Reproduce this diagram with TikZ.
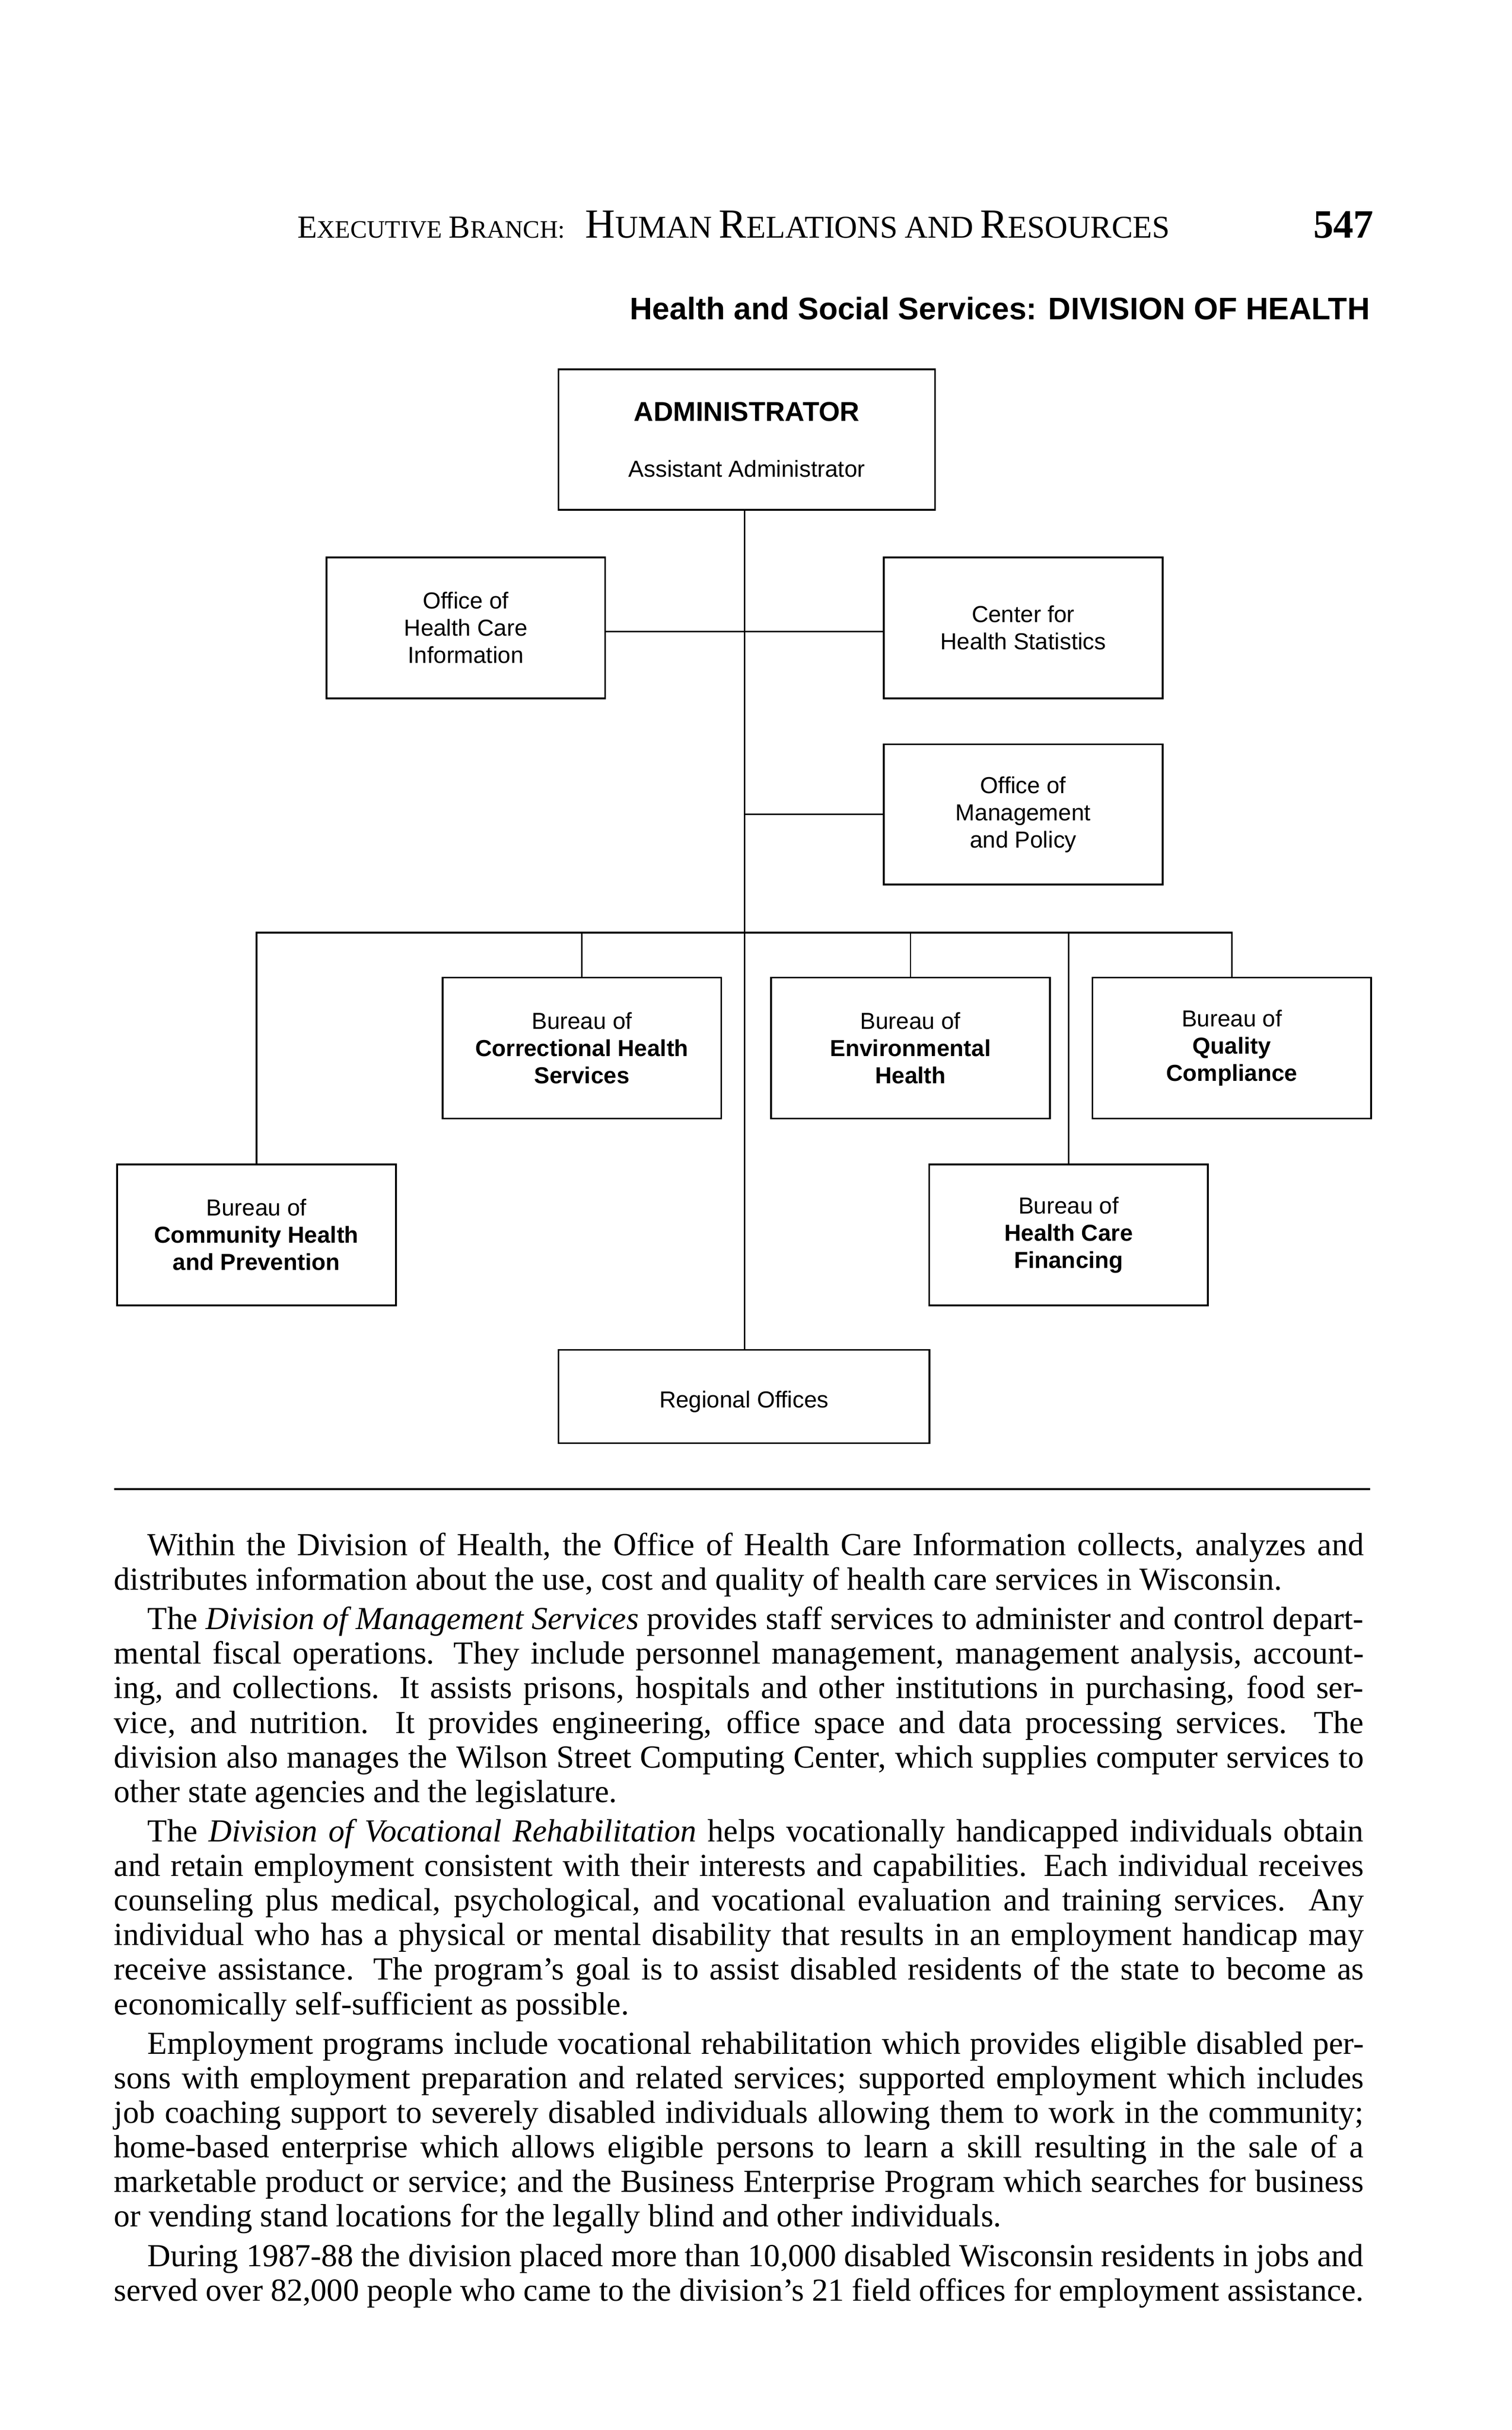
\documentclass[tikz,border=0pt]{standalone}
\usepackage{fontspec}
\setmainfont{Liberation Serif}
\setsansfont{Liberation Sans}
\newcommand\hscA[2]{{\fontsize{11.8}{12}\selectfont #1}{\fontsize{9.2}{12}\selectfont #2}}
\newcommand\hscB[2]{{\fontsize{15.2}{15}\selectfont #1}{\fontsize{11.65}{12}\selectfont #2}}
\newcommand\jl[1]{\makebox[\linewidth][s]{#1}\par}
\newcommand\lastl[1]{\makebox[\linewidth][l]{#1}\par}
\newcommand\pind{\hspace*{12.3pt}}
\begin{document}
\begin{tikzpicture}[x=0.02cm,y=-0.02cm,
  box/.style={draw,line width=0.65pt,rectangle,inner sep=0pt,align=center,
    font=\sffamily\fontsize{8.5}{10}\selectfont},
  smallbox/.style={box,minimum width=3.6cm,minimum height=1.82cm},
  link/.style={line width=0.5pt},
  lbl/.style={inner sep=0pt,outer sep=0pt}]
\useasboundingbox (0,0) rectangle (976,1568.6);
\fill[white] (0,0) rectangle (976,1568.6);

% header
\node[lbl,anchor=base west] (hd1) at (192,153.7) {\hscA{E}{XECUTIVE} \hscA{B}{RANCH:}};
\node[lbl,anchor=base west] (hd2) at (378,153.7) {\hscB{H}{UMAN} \hscB{R}{ELATIONS} {\fontsize{11.65}{12}\selectfont AND} \hscB{R}{ESOURCES}};
\node[lbl,anchor=base east] (pg) at (887,153.7) {\fontsize{14.8}{16}\selectfont\bfseries 547};
\node[lbl,anchor=base east,font=\sffamily\bfseries\fontsize{11.45}{13}\selectfont] (title) at (884.5,206.3) {Health and Social Services: DIVISION OF HEALTH};

% chart boxes
\node[box,minimum width=4.864cm,minimum height=1.812cm] (admin) at (482.2,283.7)
  {{\bfseries\fontsize{10}{12}\selectfont ADMINISTRATOR}\\[10.5pt]Assistant Administrator};
\node[smallbox] (hci) at (300.75,405.3) {Office of\\Health Care\\Information};
\node[smallbox] (chs) at (660.65,405.3) {Center for\\Health Statistics};
\node[smallbox,minimum height=1.81cm] (omp) at (660.65,525.75) {Office of\\Management\\and Policy};
\node[smallbox] (corr) at (375.7,676.5) {Bureau of\\\textbf{Correctional Health}\\\textbf{Services}};
\node[smallbox] (env) at (587.9,676.5) {Bureau of\\\textbf{Environmental}\\\textbf{Health}};
\node[smallbox] (qual) at (795.35,676.5) {Bureau of\\\textbf{Quality}\\\textbf{Compliance}};
\node[smallbox] (comm) at (165.6,797.1) {Bureau of\\\textbf{Community Health}\\\textbf{and Prevention}};
\node[smallbox] (fin) at (690,797.1) {Bureau of\\\textbf{Health Care}\\\textbf{Financing}};
\node[box,minimum width=4.792cm,minimum height=1.206cm] (reg) at (480.4,901.45) {\raisebox{-2pt}[\height][\depth]{Regional Offices}};

% connectors
\coordinate (bus) at (480.8,602);
\draw[link] (admin.south -| bus) -- (reg.north -| bus);
\draw[link] ([yshift=-0.05cm]hci.east) -- ([yshift=-0.05cm]chs.west);
\draw[link] (omp.west) -- (omp.west -| bus);
\draw[link,line width=0.6pt] (comm.north) -- (comm.north |- bus) -- (qual.north |- bus) -- (qual.north);
\draw[link] (corr.north) -- (corr.north |- bus);
\draw[link] (env.north) -- (env.north |- bus);
\draw[link] (fin.north) -- (fin.north |- bus);

% rule
\draw[line width=0.7pt] (73.7,961.3) -- (884.6,961.3);

% body text
\node[lbl,anchor=base west] (body) at (73.7,1004) {\begin{minipage}[t]{16.14cm}%
\fontsize{11.8}{12.7}\selectfont\setlength\parindent{0pt}\setlength\parskip{0pt}%
\jl{\pind Within the Division of Health, the Office of Health Care Information collects, analyzes and}
\lastl{distributes information about the use, cost and quality of health care services in Wisconsin.}
\vspace{1.8pt}
\jl{\pind The \textit{Division of Management Services} provides staff services to administer and control depart-}
\jl{mental fiscal operations.  They include personnel management, management analysis, account-}
\jl{ing, and collections.  It assists prisons, hospitals and other institutions in purchasing, food ser-}
\jl{vice, and nutrition.  It provides engineering, office space and data processing services.  The}
\jl{division also manages the Wilson Street Computing Center, which supplies computer services to}
\lastl{other state agencies and the legislature.}
\vspace{1.8pt}
\jl{\pind The \textit{Division of Vocational Rehabilitation} helps vocationally handicapped individuals obtain}
\jl{and retain employment consistent with their interests and capabilities.  Each individual receives}
\jl{counseling plus medical, psychological, and vocational evaluation and training services.  Any}
\jl{individual who has a physical or mental disability that results in an employment handicap may}
\jl{receive assistance.  The program's goal is to assist disabled residents of the state to become as}
\lastl{economically self-sufficient as possible.}
\vspace{1.8pt}
\jl{\pind Employment programs include vocational rehabilitation which provides eligible disabled per-}
\jl{sons with employment preparation and related services; supported employment which includes}
\jl{job coaching support to severely disabled individuals allowing them to work in the community;}
\jl{home-based enterprise which allows eligible persons to learn a skill resulting in the sale of a}
\jl{marketable product or service; and the Business Enterprise Program which searches for business}
\lastl{or vending stand locations for the legally blind and other individuals.}
\vspace{1.8pt}
\jl{\pind During 1987-88 the division placed more than 10,000 disabled Wisconsin residents in jobs and}
\jl{served over 82,000 people who came to the division's 21 field offices for employment assistance.}
\end{minipage}};
\end{tikzpicture}
\end{document}
